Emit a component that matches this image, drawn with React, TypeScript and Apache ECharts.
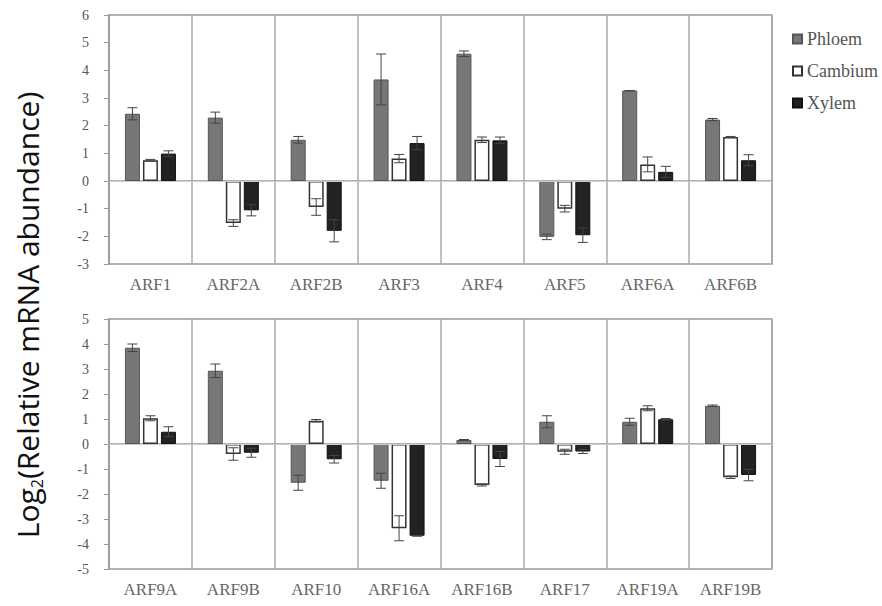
import React, { useEffect, useRef } from "react";
import * as echarts from "echarts";

const topCategories = ["ARF1", "ARF2A", "ARF2B", "ARF3", "ARF4", "ARF5", "ARF6A", "ARF6B"];
const bottomCategories = ["ARF9A", "ARF9B", "ARF10", "ARF16A", "ARF16B", "ARF17", "ARF19A", "ARF19B"];

const topPhloem = [2.43, 2.29, 1.49, 3.67, 4.6, -2.02, 3.27, 2.22];
const topPhloemErr = [0.22, 0.2, 0.12, 0.92, 0.1, 0.1, 0.0, 0.04];
const topCambium = [0.75, -1.52, -0.94, 0.81, 1.49, -1.0, 0.6, 1.59];
const topCambiumErr = [0.03, 0.12, 0.3, 0.15, 0.1, 0.12, 0.27, 0.02];
const topXylem = [0.99, -1.06, -1.8, 1.37, 1.47, -1.96, 0.33, 0.75];
const topXylemErr = [0.1, 0.2, 0.4, 0.24, 0.12, 0.26, 0.2, 0.2];

const bottomPhloem = [3.85, 2.93, -1.55, -1.47, 0.16, 0.89, 0.89, 1.53];
const bottomPhloemErr = [0.15, 0.27, 0.3, 0.3, 0.02, 0.24, 0.14, 0.03];
const bottomCambium = [1.03, -0.4, 0.93, -3.37, -1.64, -0.31, 1.43, -1.33];
const bottomCambiumErr = [0.1, 0.25, 0.05, 0.5, 0.04, 0.1, 0.1, 0.05];
const bottomXylem = [0.49, -0.35, -0.61, -3.67, -0.6, -0.3, 0.99, -1.24];
const bottomXylemErr = [0.2, 0.18, 0.15, 0.02, 0.3, 0.08, 0.03, 0.23];

const seriesNames = ["Phloem", "Cambium", "Xylem"];
const topTicks = { min: -3, max: 6, interval: 1 };
const bottomTicks = { min: -5, max: 5, interval: 1 };

const BAR_W = 15;
const SERIF = "Liberation Serif";

export default function App() {
  const ref = useRef<HTMLDivElement>(null);
  useEffect(() => {
    document.body.style.margin = "0";
    const chart = echarts.init(ref.current!, undefined, { renderer: "svg" });

    const styles = [
      { color: "#777777", borderColor: "#555555", borderWidth: 1 },
      { color: "#ffffff", borderColor: "#333333", borderWidth: 1.5 },
      { color: "#222222", borderColor: "#111111", borderWidth: 1 },
    ];

    const makeErr = (vals: number[][], errs: number[][]) => {
      const out: number[][] = [];
      vals.forEach((arr, g) =>
        arr.forEach((v, i) => out.push([i, v, errs[g][i], g]))
      );
      return out;
    };

    const renderErr = (params: any, api: any) => {
      const cat = api.value(0);
      const v = api.value(1);
      const e = api.value(2);
      const g = api.value(3);
      const off = (g - 1) * (BAR_W * 1.2);
      const hi = api.coord([cat, v + e]);
      const lo = api.coord([cat, v - e]);
      const x = hi[0] + off;
      const cap = 5;
      const st = { stroke: "#444", lineWidth: 1 };
      return {
        type: "group",
        children: [
          { type: "line", shape: { x1: x, y1: hi[1], x2: x, y2: lo[1] }, style: st },
          { type: "line", shape: { x1: x - cap, y1: hi[1], x2: x + cap, y2: hi[1] }, style: st },
          { type: "line", shape: { x1: x - cap, y1: lo[1], x2: x + cap, y2: lo[1] }, style: st },
        ],
      };
    };

    const xAxisBase = (cats: string[], gi: number) => ({
      type: "category",
      gridIndex: gi,
      data: cats,
      axisTick: { show: false },
      axisLine: { lineStyle: { color: "#999", width: 1.5 } },
      splitLine: { show: true, interval: 0, lineStyle: { color: "#aaa", width: 1.5 } },
      axisLabel: { margin: 12, fontFamily: SERIF, fontSize: 17, color: "#666", interval: 0 },
    });

    const yAxisBase = (t: any, gi: number) => ({
      type: "value",
      gridIndex: gi,
      min: t.min,
      max: t.max,
      interval: t.interval,
      axisLine: { show: true, lineStyle: { color: "#999", width: 1.5 } },
      axisTick: { show: true, length: 5, lineStyle: { color: "#999" } },
      splitLine: { show: false },
      axisLabel: { margin: 20, fontFamily: SERIF, fontSize: 14, color: "#555" },
    });

    const barSeries = (vals: number[][], gi: number) =>
      vals.map((d, k) => ({
        name: seriesNames[k],
        type: "bar",
        xAxisIndex: gi,
        yAxisIndex: gi,
        data: d,
        barWidth: BAR_W,
        barGap: "20%",
        itemStyle: styles[k],
        markLine:
          k === 0
            ? {
                silent: true,
                symbol: "none",
                label: { show: false },
                lineStyle: { color: "#cccccc", width: 1, type: "solid" },
                data: [{ yAxis: 0 }],
              }
            : undefined,
      }));

    const topVals = [topPhloem, topCambium, topXylem];
    const topErrs = [topPhloemErr, topCambiumErr, topXylemErr];
    const botVals = [bottomPhloem, bottomCambium, bottomXylem];
    const botErrs = [bottomPhloemErr, bottomCambiumErr, bottomXylemErr];

    chart.setOption({
      animation: false,
      backgroundColor: "#ffffff",
      grid: [
        { left: 109, right: 110, top: 15, height: 249, show: true, borderColor: "#999", borderWidth: 1.5 },
        { left: 109, right: 110, top: 319, height: 250, show: true, borderColor: "#999", borderWidth: 1.5 },
      ],
      legend: {
        data: seriesNames,
        orient: "vertical",
        left: 792,
        top: 30,
        padding: 0,
        icon: "rect",
        itemWidth: 9,
        itemHeight: 9,
        itemGap: 14,
        textStyle: { fontFamily: SERIF, fontSize: 18, color: "#555" },
      },
      xAxis: [xAxisBase(topCategories, 0), xAxisBase(bottomCategories, 1)],
      yAxis: [yAxisBase(topTicks, 0), yAxisBase(bottomTicks, 1)],
      series: [
        ...barSeries(topVals, 0),
        ...barSeries(botVals, 1),
        {
          type: "custom",
          xAxisIndex: 0,
          yAxisIndex: 0,
          data: makeErr(topVals, topErrs),
          encode: { x: 0, y: 1 },
          renderItem: renderErr,
          z: 5,
          silent: true,
        },
        {
          type: "custom",
          xAxisIndex: 1,
          yAxisIndex: 1,
          data: makeErr(botVals, botErrs),
          encode: { x: 0, y: 1 },
          renderItem: renderErr,
          z: 5,
          silent: true,
        },
      ],
      graphic: [
        {
          type: "text",
          x: 27,
          y: 315,
          rotation: Math.PI / 2,
          style: {
            text: "{a|Log}{s|2}{a|(Relative mRNA abundance)}",
            align: "center",
            verticalAlign: "middle",
            fill: "#111",
            rich: {
              a: { fontFamily: "Open Sans", fontSize: 30, lineHeight: 36, fill: "#111" },
              s: { fontFamily: "Open Sans", fontSize: 16, lineHeight: 36, fill: "#111", verticalAlign: "bottom", padding: [14, 0, 0, 0] },
            },
          },
        },
      ],
    });
    return () => chart.dispose();
  }, []);
  return <div ref={ref} style={{ width: 882, height: 606 }} />;
}
